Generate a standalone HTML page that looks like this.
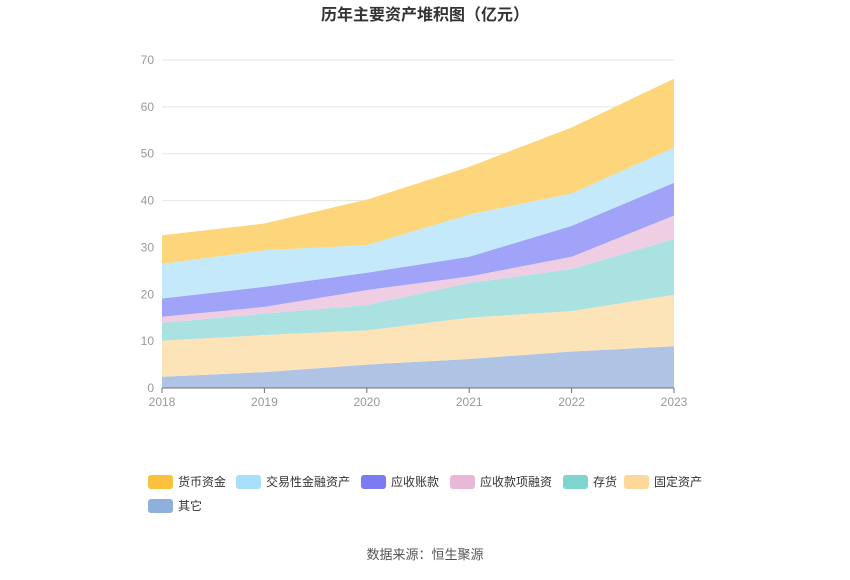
<!DOCTYPE html>
<html><head><meta charset="utf-8"><style>
body{margin:0;background:#fff;font-family:"Liberation Sans","Noto Sans CJK SC",sans-serif;}
svg text{font-family:"Liberation Sans","Noto Sans CJK SC",sans-serif;}
</style></head><body>
<svg id="c" width="850" height="575">
<text x="425" y="20" text-anchor="middle" font-size="16" font-weight="bold" fill="#333">历年主要资产堆积图（亿元）</text>
<g id="grid"></g><g id="areas"></g><g id="axes"></g><g id="legend"></g>
<text x="425" y="559" text-anchor="middle" font-size="13" fill="#555">数据来源：恒生聚源</text>
</svg>
<script>
const years=["2018","2019","2020","2021","2022","2023"];
const yTicks=[0,10,20,30,40,50,60,70];
const seriesNames=["其它","固定资产","存货","应收款项融资","应收账款","交易性金融资产","货币资金"];
const other=[2.4,3.4,5.0,6.2,7.8,8.9];
const fixedAssets=[7.7,7.9,7.3,8.8,8.6,11.0];
const inventory=[3.8,4.6,5.4,7.4,9.0,11.9];
const recvFinancing=[1.3,1.4,3.2,1.4,2.6,5.0];
const receivables=[3.9,4.3,3.7,4.2,6.6,7.0];
const tradingAssets=[7.4,7.8,5.9,9.0,6.9,7.5];
const cash=[6.1,5.7,9.7,10.2,14.1,14.7];
const series=[other,fixedAssets,inventory,recvFinancing,receivables,tradingAssets,cash];
const fills=["#afc4e4","#fde4b8","#aae2e2","#efcde2","#a0a3f7","#c4e9fb","#fdd67c"];
const legendColors=["#8fb0dc","#fdd89a","#7fd4d0","#e8b8d8","#7b7bf2","#a8e0fb","#fbc13c"];
const NS="http://www.w3.org/2000/svg";
const x0=162,x1=674,y0=388,y1=60;
const xs=i=>x0+(x1-x0)*i/(years.length-1);
const ys=v=>y0-(y0-y1)*v/70;
function mk(t,a,p){const e=document.createElementNS(NS,t);for(const k in a)e.setAttribute(k,a[k]);p.appendChild(e);return e;}
const grid=document.getElementById('grid'),axes=document.getElementById('axes'),areas=document.getElementById('areas'),legend=document.getElementById('legend');
yTicks.forEach(v=>{
 const l=mk('line',{x1:x0,x2:x1,y1:ys(v),y2:ys(v),stroke:'#e6e6e6'},grid);
 
 
 const t=mk('text',{x:154,y:ys(v)+4,'text-anchor':'end','font-size':12,fill:'#999'},axes);t.textContent=v;
 
 
});
let base=years.map(()=>0);
series.forEach((s,k)=>{
 const top=base.map((b,i)=>b+s[i]);
 let d='M'+top.map((v,i)=>xs(i)+','+ys(v)).join('L');
 for(let i=years.length-1;i>=0;i--)d+='L'+xs(i)+','+ys(base[i]);
 const p=mk('path',{d:d+'Z',fill:fills[k]},areas);
 
 
 base=top;
});
const ax=mk('line',{x1:x0,x2:x1,y1:y0,y2:y0,stroke:'#6e7079'},axes);


years.forEach((y,i)=>{
 mk('line',{x1:xs(i),x2:xs(i),y1:y0,y2:y0+5,stroke:'#6e7079'},axes);
 const t=mk('text',{x:xs(i),y:y0+18,'text-anchor':'middle','font-size':12,fill:'#999'},axes);t.textContent=y;
 
 
});
const order=[6,5,4,3,2,1,0];
const pos=[[148,482],[236,482],[361,482],[450,482],[563,482],[624,482],[148,506]];
order.forEach((k,j)=>{
 const g=mk('g',{},legend);
 
 
 const [x,y]=pos[j];
 mk('rect',{x:x,y:y-7,width:25,height:14,rx:3,fill:legendColors[k]},g);
 const t=mk('text',{x:x+30,y:y+4,'font-size':12,fill:'#333'},g);t.textContent=seriesNames[k];
});
</script>
</body></html>
